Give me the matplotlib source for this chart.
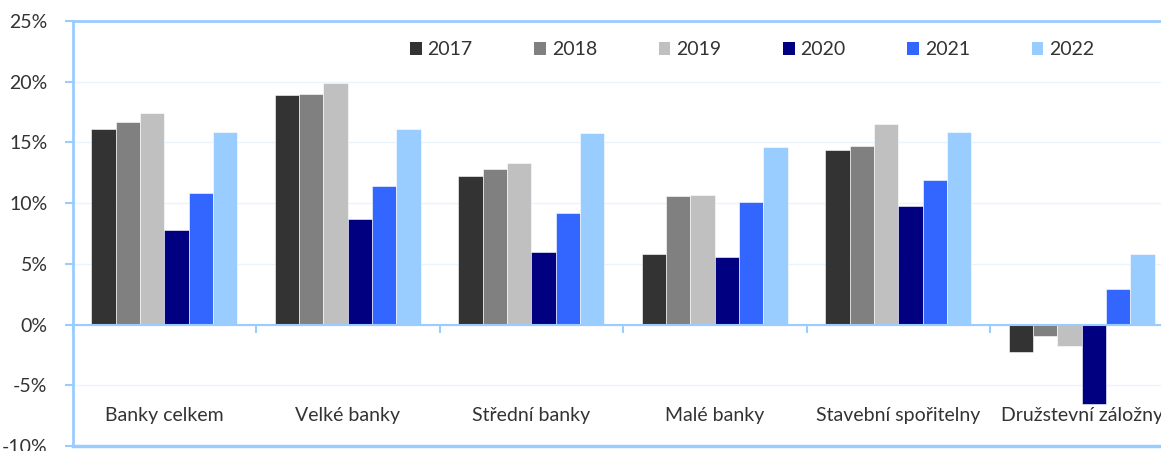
import matplotlib
matplotlib.use("Agg")
import matplotlib.pyplot as plt
import numpy as np
from matplotlib.ticker import FuncFormatter

categories = ["Banky celkem", "Velké banky", "Střední banky", "Malé banky",
              "Stavební spořitelny", "Družstevní záložny"]
years = ["2017", "2018", "2019", "2020", "2021", "2022"]
v2017 = [16.1, 18.9, 12.2, 5.85, 14.4, -2.25]
v2018 = [16.7, 19.0, 12.8, 10.6, 14.7, -0.96]
v2019 = [17.4, 19.9, 13.3, 10.7, 16.5, -1.73]
v2020 = [7.8, 8.7, 6.0, 5.6, 9.8, -6.5]
v2021 = [10.85, 11.4, 9.2, 10.1, 11.9, 2.9]
v2022 = [15.9, 16.1, 15.8, 14.6, 15.9, 5.85]
series = [v2017, v2018, v2019, v2020, v2021, v2022]
colors = ["#333333", "#808080", "#C0C0C0", "#000080", "#3366FF", "#99CCFF"]

plt.rcParams['font.family'] = ['Lato', 'DejaVu Sans']
txt = "#333333"
blue = "#99CCFF"
fs = 14

fig = plt.figure(figsize=(11.61, 4.51), dpi=100)
W, H = 1161, 451
left, right, top, bottom = 72.5, 1173.5, 21, 446
ax = fig.add_axes([left / W, 1 - bottom / H, (right - left) / W, (bottom - top) / H])

n = len(categories)
x = np.arange(n)
bw = 0.1325
for i, (vals, c, y) in enumerate(zip(series, colors, years)):
    ax.bar(x + (i - 2.5) * bw, vals, width=bw, color=c, label=y,
           edgecolor="white", linewidth=0.4, zorder=3)

ax.set_xlim(-0.5, n - 0.5)
ax.set_ylim(-10, 25)
ax.set_yticks(np.arange(-10, 26, 5))
ax.yaxis.set_major_formatter(FuncFormatter(lambda v, p: f"{v:.0f}%"))
ax.tick_params(axis='y', direction='out', length=6, width=1.5, color=blue,
               labelsize=fs, labelcolor=txt, pad=12)
ax.yaxis.grid(True, color="#EAF4FF", linewidth=1, zorder=0)

ax.spines['left'].set_color(blue)
ax.spines['left'].set_linewidth(2)
ax.spines['top'].set_color(blue)
ax.spines['top'].set_linewidth(2)
ax.spines['right'].set_visible(False)
ax.spines['bottom'].set_position(('data', 0))
ax.spines['bottom'].set_color(blue)
ax.spines['bottom'].set_linewidth(1.5)
ax.spines['bottom'].set_zorder(4)
ax.set_xticks(np.arange(n + 1) - 0.5)
ax.set_xticklabels([])
ax.tick_params(axis='x', direction='out', length=6, width=1.5, color=blue)
ax.axhline(-10, color=blue, linewidth=2.5, clip_on=False, zorder=5)

for xi, lab in zip(x, categories):
    ax.text(xi, -7.5, lab, ha='center', va='center', fontsize=fs, color=txt)

leg = ax.legend(ncol=6, loc='center left', bbox_to_anchor=(0.3065, 0.932),
                frameon=False, fontsize=fs, handlelength=0.6, handleheight=0.6,
                handletextpad=0.3, columnspacing=3.17, borderaxespad=0,
                borderpad=0, labelcolor=txt)
for h in leg.legend_handles:
    h.set_linewidth(0)

fig.savefig("out.png", dpi=100)
